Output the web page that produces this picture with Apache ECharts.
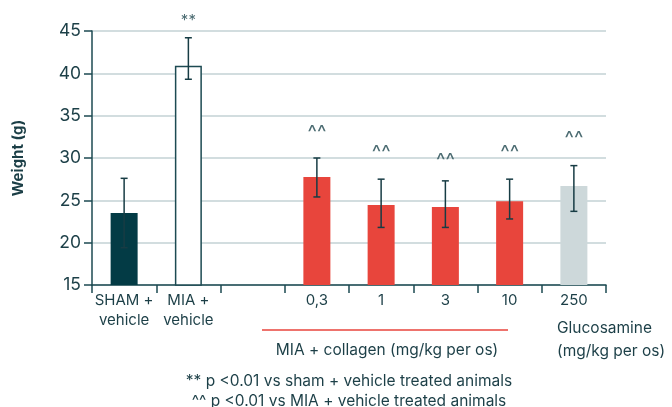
<!DOCTYPE html>
<html>
<head>
<meta charset="utf-8">
<script src="https://cdn.jsdelivr.net/npm/echarts@6/dist/echarts.min.js"></script>
<style>
  html, body { margin: 0; padding: 0; background: #ffffff; }
  #chart { width: 672px; height: 407px; }
</style>
</head>
<body>
<div id="chart"></div>
<script>
// Treatment groups along the x axis (empty slot separates controls from doses)
const categories = ['SHAM +\nvehicle', 'MIA +\nvehicle', '', '0,3', '1', '3', '10', '250'];
// Mean weight (g) per group
const meanWeight = [23.5, 40.9, null, 27.75, 24.45, 24.2, 24.9, 26.7];
// Error bar ends (g)
const errUpper = [27.6, 44.2, null, 30.0, 27.5, 27.3, 27.5, 29.1];
const errLower = [19.4, 39.3, null, 25.4, 21.8, 21.8, 22.8, 23.7];
// Significance marks and the weight level at which each is printed
const sigMarks = ['', '**', '', '^^', '^^', '^^', '^^', '^^'];
const sigLevel = [null, 46.3, null, 33.3, 30.9, 30.0, 30.9, 32.6];
// Y axis ticks
const yTicks = [15, 20, 25, 30, 35, 40, 45];

const FONT = 'Inter, "Noto Sans", sans-serif';
const INK = '#1c3f47';
const groupStyle = [
  { color: '#033b45' },
  { color: '#ffffff', borderColor: '#1d4a52', borderWidth: 1.5 },
  { color: '#ffffff' },
  { color: '#e8453c' },
  { color: '#e8453c' },
  { color: '#e8453c' },
  { color: '#e8453c' },
  { color: '#cdd8da' }
];

const chart = echarts.init(document.getElementById('chart'), null, { renderer: 'canvas' });

chart.setOption({
  animation: false,
  backgroundColor: '#ffffff',
  textStyle: { fontFamily: FONT },
  grid: { left: 92, right: 66, top: 31, bottom: 122, containLabel: false },
  xAxis: {
    type: 'category',
    data: categories,
    boundaryGap: true,
    axisLine: { lineStyle: { color: '#1d4a52', width: 1.5 } },
    axisTick: { show: true, alignWithLabel: false, length: 8, lineStyle: { color: '#1d4a52', width: 1.5 } },
    axisLabel: { color: INK, fontSize: 15, lineHeight: 20, margin: 5, fontFamily: FONT, interval: 0 }
  },
  yAxis: {
    type: 'value',
    min: yTicks[0],
    max: yTicks[yTicks.length - 1],
    interval: 5,
    name: 'Weight (g)',
    nameLocation: 'middle',
    nameGap: 66,
    nameTextStyle: { color: INK, fontSize: 15, fontWeight: 'bold', fontFamily: FONT },
    axisLine: { show: true, lineStyle: { color: '#1d4a52', width: 1.5 } },
    axisTick: { show: true, length: 8, lineStyle: { color: '#1d4a52', width: 1.5 } },
    axisLabel: { color: INK, fontSize: 17.5, margin: 11, fontFamily: FONT },
    splitLine: { lineStyle: { color: '#c3d2d5', width: 1.5 } }
  },
  series: [
    {
      type: 'bar',
      barWidth: 27,
      data: meanWeight.map((v, i) => ({ value: v, itemStyle: groupStyle[i] })),
      z: 2
    },
    {
      type: 'custom',
      z: 5,
      data: categories.map((c, i) => [i, errLower[i], errUpper[i], sigLevel[i]]),
      renderItem: function (params, api) {
        const i = api.value(0);
        const children = [];
        if (errUpper[i] != null) {
          const top = api.coord([i, api.value(2)]);
          const bot = api.coord([i, api.value(1)]);
          const cap = 3.5;
          const st = { stroke: '#173c44', lineWidth: 1.5 };
          children.push(
            { type: 'line', shape: { x1: top[0], y1: top[1], x2: bot[0], y2: bot[1] }, style: st },
            { type: 'line', shape: { x1: top[0] - cap, y1: top[1], x2: top[0] + cap, y2: top[1] }, style: st },
            { type: 'line', shape: { x1: bot[0] - cap, y1: bot[1], x2: bot[0] + cap, y2: bot[1] }, style: st }
          );
        }
        if (sigMarks[i]) {
          const p = api.coord([i, api.value(3)]);
          children.push({
            type: 'text',
            style: {
              x: p[0], y: p[1] + (sigMarks[i] === '^^' ? 3 : 0), text: sigMarks[i],
              fill: '#4c6c72', font: (sigMarks[i] === '^^' ? '20px ' : '15px ') + FONT,
              textAlign: 'center', textVerticalAlign: 'middle'
            }
          });
        }
        return { type: 'group', children: children };
      }
    }
  ],
  graphic: [
    { type: 'line', shape: { x1: 262, y1: 330, x2: 508, y2: 330 }, style: { stroke: '#e8453c', lineWidth: 1.5 } },
    { type: 'text', style: { x: 387, y: 350, text: 'MIA + collagen (mg/kg per os)', fill: INK, font: '15.5px ' + FONT, textAlign: 'center', textVerticalAlign: 'middle' } },
    { type: 'text', style: { x: 557, y: 328, text: 'Glucosamine', fill: INK, font: '15.5px ' + FONT, textAlign: 'left', textVerticalAlign: 'middle' } },
    { type: 'text', style: { x: 557, y: 351, text: '(mg/kg per os)', fill: INK, font: '15.5px ' + FONT, textAlign: 'left', textVerticalAlign: 'middle' } },
    { type: 'text', style: { x: 349, y: 381, text: '** p <0.01 vs sham + vehicle treated animals', fill: INK, font: '15.5px ' + FONT, textAlign: 'center', textVerticalAlign: 'middle' } },
    { type: 'text', style: { x: 349, y: 401, text: '^^ p <0.01 vs MIA + vehicle treated animals', fill: INK, font: '15.5px ' + FONT, textAlign: 'center', textVerticalAlign: 'middle' } }
  ]
});
</script>
</body>
</html>
